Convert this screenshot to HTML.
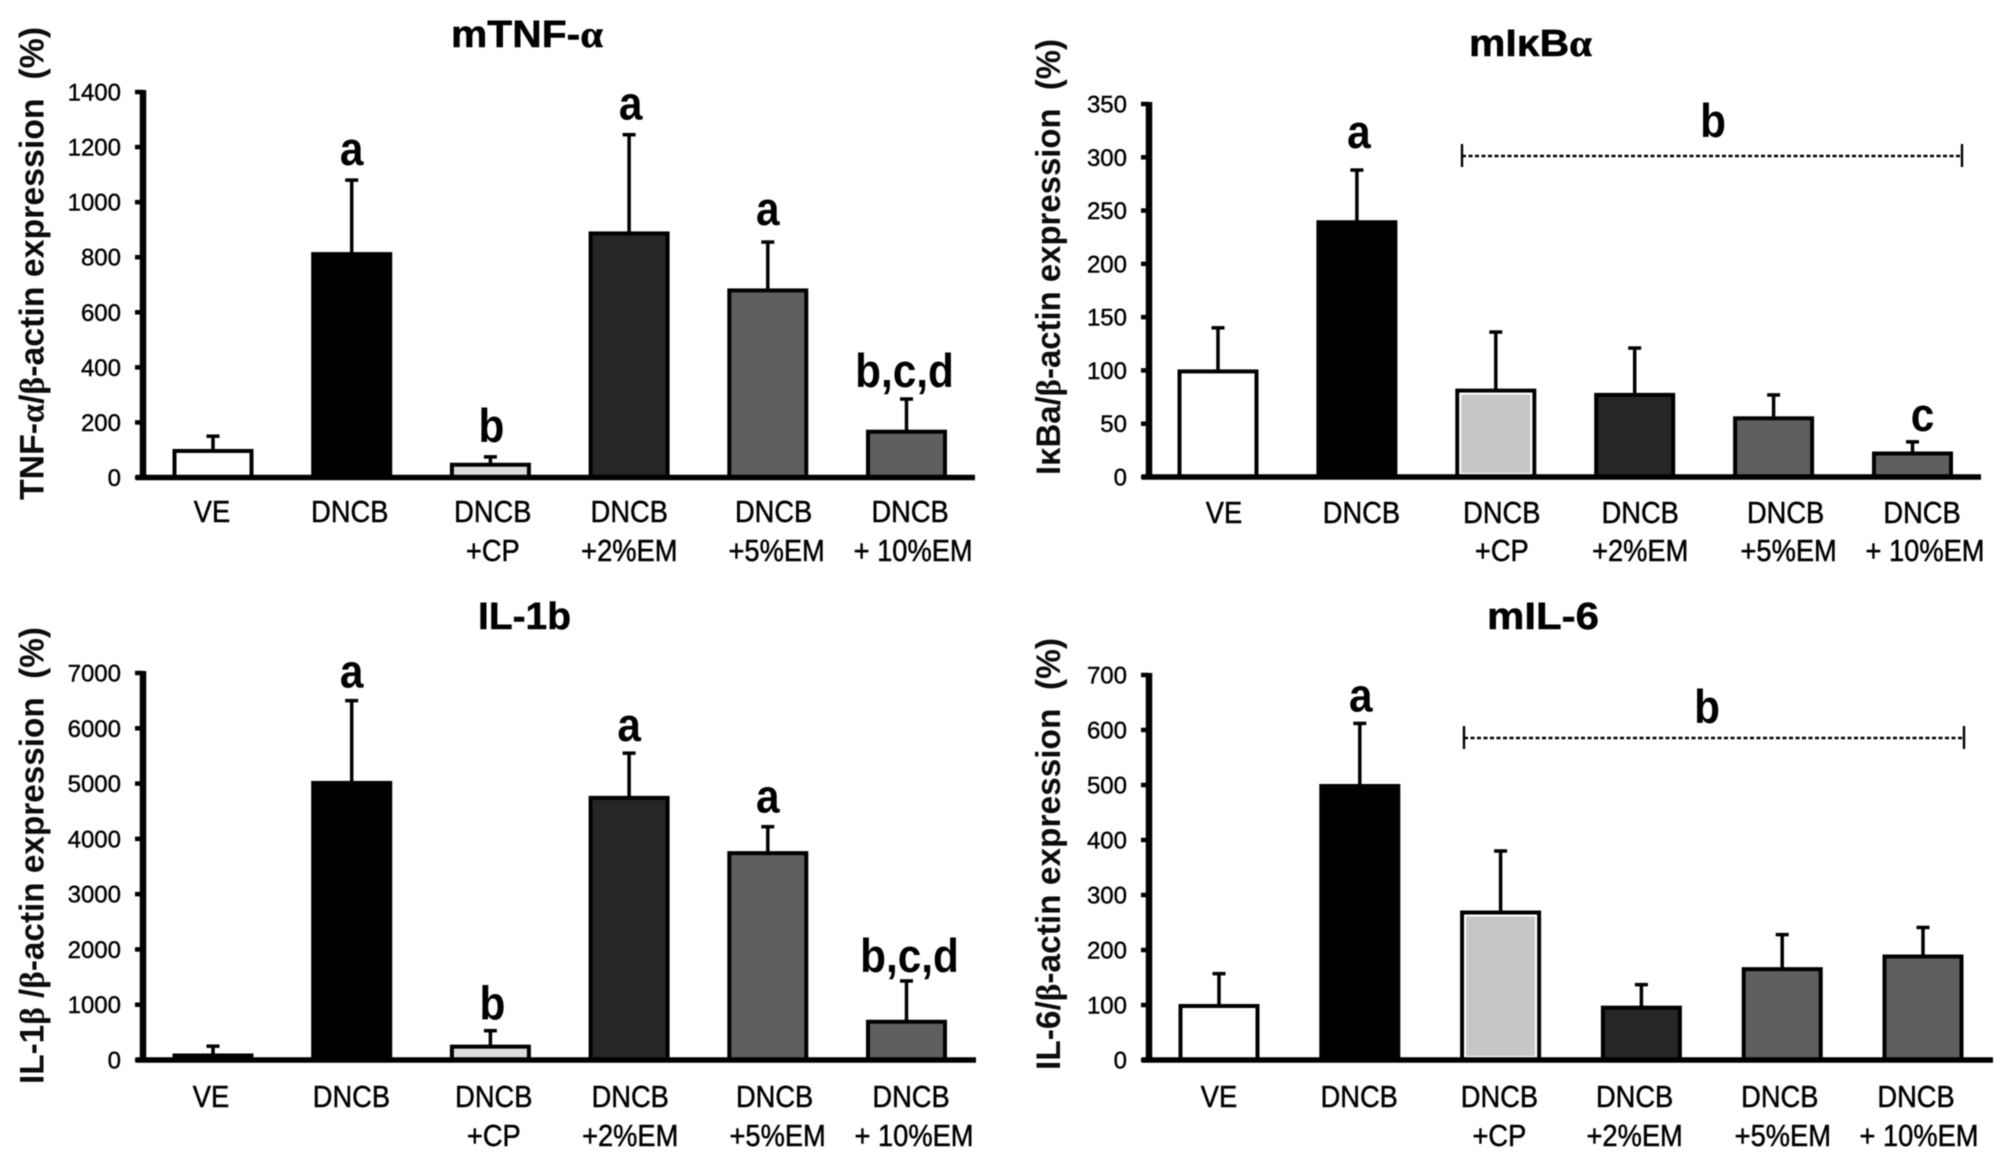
<!DOCTYPE html>
<html lang="en">
<head>
<meta charset="utf-8">
<title>Cytokine expression bar charts</title>
<style>
  html, body { margin: 0; padding: 0; background: #fff; }
  svg { display: block; filter: blur(.4px); }
  text { font-family: "Liberation Sans", sans-serif; fill: #000; white-space: pre; }
  .panel-title { font-weight: bold; font-size: 38px; stroke: #000; stroke-width: .5px; }
  .y-title { font-weight: bold; font-size: 34px; fill: #0c0c0c; }
  .greek { font-family: "Liberation Serif", serif; }
  .tick-label { font-size: 24px; stroke: #000; stroke-width: .4px; }
  .cat-label { font-size: 31px; stroke: #000; stroke-width: .5px; }
  .letter { font-weight: bold; font-size: 47px; }
</style>
</head>
<body>
<svg id="figure" xmlns="http://www.w3.org/2000/svg" width="2008" height="1162" viewBox="0 0 2008 1162">
  <rect x="0" y="0" width="2008" height="1162" fill="#fff"/>

  <text class="panel-title" x="451" y="47" textLength="152" lengthAdjust="spacingAndGlyphs">mTNF-<tspan class="greek">α</tspan></text>
  <text class="panel-title" x="1469" y="56" textLength="123" lengthAdjust="spacingAndGlyphs">mIκB<tspan class="greek">α</tspan></text>
  <text class="panel-title" x="478" y="629" textLength="93" lengthAdjust="spacingAndGlyphs">IL-1b</text>
  <text class="panel-title" x="1487" y="629" textLength="112" lengthAdjust="spacingAndGlyphs">mIL-6</text>

  <text class="y-title" transform="translate(43.5,500) rotate(-90)" textLength="473" lengthAdjust="spacingAndGlyphs">TNF-<tspan class="greek">α</tspan>/<tspan class="greek">β</tspan>-actin expression  (%)</text>
  <text class="y-title" transform="translate(1060,475) rotate(-90)" textLength="436" lengthAdjust="spacingAndGlyphs">IκBa/<tspan class="greek">β</tspan>-actin expression  (%)</text>
  <text class="y-title" transform="translate(43.5,1084) rotate(-90)" textLength="457" lengthAdjust="spacingAndGlyphs">IL-1<tspan class="greek">β</tspan> /<tspan class="greek">β</tspan>-actin expression  (%)</text>
  <text class="y-title" transform="translate(1060,1070) rotate(-90)" textLength="432" lengthAdjust="spacingAndGlyphs">IL-6/<tspan class="greek">β</tspan>-actin expression  (%)</text>

  <g stroke="#000">
    <line x1="1462" y1="156" x2="1962" y2="156" stroke-width="2.4" stroke-dasharray="4 2.5"/>
    <line x1="1462" y1="144" x2="1462" y2="167" stroke-width="2.4"/>
    <line x1="1962" y1="144" x2="1962" y2="167" stroke-width="2.4"/>
  </g>
  <text class="letter" transform="translate(1713,137) scale(.9,1)" text-anchor="middle">b</text>

  <g stroke="#000">
    <line x1="1464" y1="738" x2="1964" y2="738" stroke-width="2.4" stroke-dasharray="4 2.5"/>
    <line x1="1464" y1="726" x2="1464" y2="749" stroke-width="2.4"/>
    <line x1="1964" y1="726" x2="1964" y2="749" stroke-width="2.4"/>
  </g>
  <text class="letter" transform="translate(1707,723) scale(.9,1)" text-anchor="middle">b</text>
</svg>

<script>
// ---- shared categories ----
var categoriesLine1 = ['VE', 'DNCB', 'DNCB', 'DNCB', 'DNCB', 'DNCB'];
var categoriesLine2 = ['', '', '+CP', '+2%EM', '+5%EM', '+ 10%EM'];

// ---- mTNF-alpha ----
var tnfMeans = [100, 815, 50, 890, 683, 170];
var tnfUpper = [150, 1080, 75, 1245, 855, 285];
var tnfTicks = [0, 200, 400, 600, 800, 1000, 1200, 1400];
var tnfLetters = ['', 'a', 'b', 'a', 'a', 'b,c,d'];

// ---- mIkB-alpha ----
var ikbMeans = [100, 240, 82, 78, 56, 23];
var ikbUpper = [140, 288, 136, 121, 77, 33];
var ikbTicks = [0, 50, 100, 150, 200, 250, 300, 350];
var ikbLetters = ['', 'a', '', '', '', 'c'];

// ---- IL-1b ----
var il1Means = [100, 5030, 260, 4760, 3760, 710];
var il1Upper = [250, 6500, 530, 5550, 4220, 1430];
var il1Ticks = [0, 1000, 2000, 3000, 4000, 5000, 6000, 7000];
var il1Letters = ['', 'a', 'b', 'a', 'a', 'b,c,d'];

// ---- mIL-6 ----
var il6Means = [100, 500, 270, 97, 167, 190];
var il6Upper = [157, 612, 380, 137, 228, 241];
var il6Ticks = [0, 100, 200, 300, 400, 500, 600, 700];
var il6Letters = ['', 'a', '', '', '', ''];

var SVG_NS = 'http://www.w3.org/2000/svg';
var figure = document.getElementById('figure');

function make(tag, attrs, parent) {
  var el = document.createElementNS(SVG_NS, tag);
  for (var k in attrs) { el.setAttribute(k, attrs[k]); }
  parent.appendChild(el);
  return el;
}

function drawPanel(p) {
  var maxTick = p.ticks[p.ticks.length - 1];
  function yScale(v) { return p.y0 - (v / maxTick) * (p.y0 - p.yTop); }
  function xScale(i) { return p.x0 + i * p.step; }
  function labelX(i) { return p.labelX0 + i * p.labelStep + p.labelNudge[i]; }

  var g = make('g', {}, figure);
  
  

  // bars and error bars
  p.means.forEach(function (m, i) {
    var cx = xScale(i);
    var stem = make('line', { x1: cx, x2: cx, y1: yScale(m), y2: yScale(p.upper[i]), stroke: '#000', 'stroke-width': 3.5 }, g);
    
    
    var cap = make('line', { x1: cx - 6.5, x2: cx + 6.5, y1: yScale(p.upper[i]), y2: yScale(p.upper[i]), stroke: '#000', 'stroke-width': 3.5 }, g);
    
    
    var bar = make('rect', { x: cx - 38.5, y: yScale(m) + 1, width: 77, height: Math.max(0, p.y0 - yScale(m) - 1), fill: p.fills[i], stroke: '#000', 'stroke-width': 4 }, g);
    
    
    if (p.insetBar === i) {
      var inset = make('rect', { x: cx - 35.5, y: yScale(m) + 4, width: 71, height: Math.max(0, p.y0 - yScale(m) - 7), fill: 'none', stroke: '#fff', 'stroke-width': 2 }, g);
      
      
    }
    var letterText = p.letters[i];
    if (letterText) {
      var letter = make('text', { transform: 'translate(' + (cx + p.letterShift[i]) + ',' + (yScale(p.upper[i]) - p.letterGaps[i]) + ') scale(.9,1)', 'text-anchor': 'middle', 'class': 'letter' }, g);
      
      
      letter.textContent = letterText;
    }
  });

  // y axis
  var axisLine = make('line', { x1: p.axisX, x2: p.axisX, y1: p.yTop - 2, y2: p.y0 + 2, stroke: '#000', 'stroke-width': 6.5 }, g);
  
  
  p.ticks.forEach(function (t) {
    var tick = make('line', { x1: p.axisX - 8, x2: p.axisX, y1: yScale(t), y2: yScale(t), stroke: '#000', 'stroke-width': 4.5 }, g);
    
    
    var label = make('text', { x: p.axisX - 22, y: yScale(t) + 8.5, 'text-anchor': 'end', 'class': 'tick-label' }, g);
    
    
    label.textContent = String(t);
  });

  // x axis baseline
  var base = make('line', { x1: p.axisX - 7, x2: p.baseEnd, y1: p.y0, y2: p.y0, stroke: '#000', 'stroke-width': 5.5 }, g);
  
  

  // category labels
  categoriesLine1.forEach(function (c, i) {
    var t1 = make('text', { transform: 'translate(' + labelX(i) + ',' + p.labelY1 + ') scale(.88,1)', 'text-anchor': 'middle', 'class': 'cat-label' }, g);
    
    
    t1.textContent = c;
    if (categoriesLine2[i]) {
      var t2 = make('text', { transform: 'translate(' + (labelX(i) + (i > 3 ? 3 : 0)) + ',' + p.labelY2 + ') scale(.88,1)', 'text-anchor': 'middle', 'class': 'cat-label' }, g);
      
      
      t2.textContent = categoriesLine2[i];
    }
  });
}

drawPanel({
  name: 'tnf', means: tnfMeans, upper: tnfUpper, ticks: tnfTicks, letters: tnfLetters,
  letterGaps: [0, 15, 15, 15, 17, 12], letterShift: [0, 0, 1, 1.5, 0, -2],
  fills: ['#fff', '#000', '#dcdcdc', '#262626', '#5f5f5f', '#5f5f5f'], insetBar: -1,
  axisX: 143, yTop: 92, y0: 477.5, x0: 213, step: 138.7, baseEnd: 975,
  labelX0: 212, labelStep: 140.4, labelNudge: [0, -2.6, 0, -3.9, 0, -3.9], labelY1: 522, labelY2: 561
});
drawPanel({
  name: 'ikb', means: ikbMeans, upper: ikbUpper, ticks: ikbTicks, letters: ikbLetters,
  letterGaps: [0, 22, 0, 0, 0, 11], letterShift: [0, 2, 0, 0, 0, 10],
  fills: ['#fff', '#000', '#c6c6c6', '#262626', '#5f5f5f', '#5f5f5f'], insetBar: 2,
  axisX: 1149, yTop: 104, y0: 477, x0: 1218, step: 138.9, baseEnd: 1981,
  labelX0: 1225, labelStep: 140.4, labelNudge: [-1, -4, -4, -6, -1, -5], labelY1: 523, labelY2: 561
});
drawPanel({
  name: 'il1', means: il1Means, upper: il1Upper, ticks: il1Ticks, letters: il1Letters,
  letterGaps: [0, 13, 11, 12, 14, 9], letterShift: [0, 0, 2, 0, 0, 3],
  fills: ['#5f5f5f', '#000', '#dcdcdc', '#262626', '#5f5f5f', '#5f5f5f'], insetBar: -1,
  axisX: 143, yTop: 673, y0: 1060, x0: 213, step: 138.7, baseEnd: 976,
  labelX0: 214, labelStep: 140.4, labelNudge: [-3, -3, -1, -5, -1, -5], labelY1: 1107, labelY2: 1146
});
drawPanel({
  name: 'il6', means: il6Means, upper: il6Upper, ticks: il6Ticks, letters: il6Letters,
  letterGaps: [0, 12, 0, 0, 0, 0], letterShift: [0, 1, 0, 0, 0, 0],
  fills: ['#fff', '#000', '#c6c6c6', '#262626', '#5f5f5f', '#5f5f5f'], insetBar: 2,
  axisX: 1149, yTop: 675, y0: 1060, x0: 1219, step: 140.8, baseEnd: 1993,
  labelX0: 1220, labelStep: 140.2, labelNudge: [-1, -1, -1, -6, -1, -5], labelY1: 1107, labelY2: 1146
});
</script>
</body>
</html>
